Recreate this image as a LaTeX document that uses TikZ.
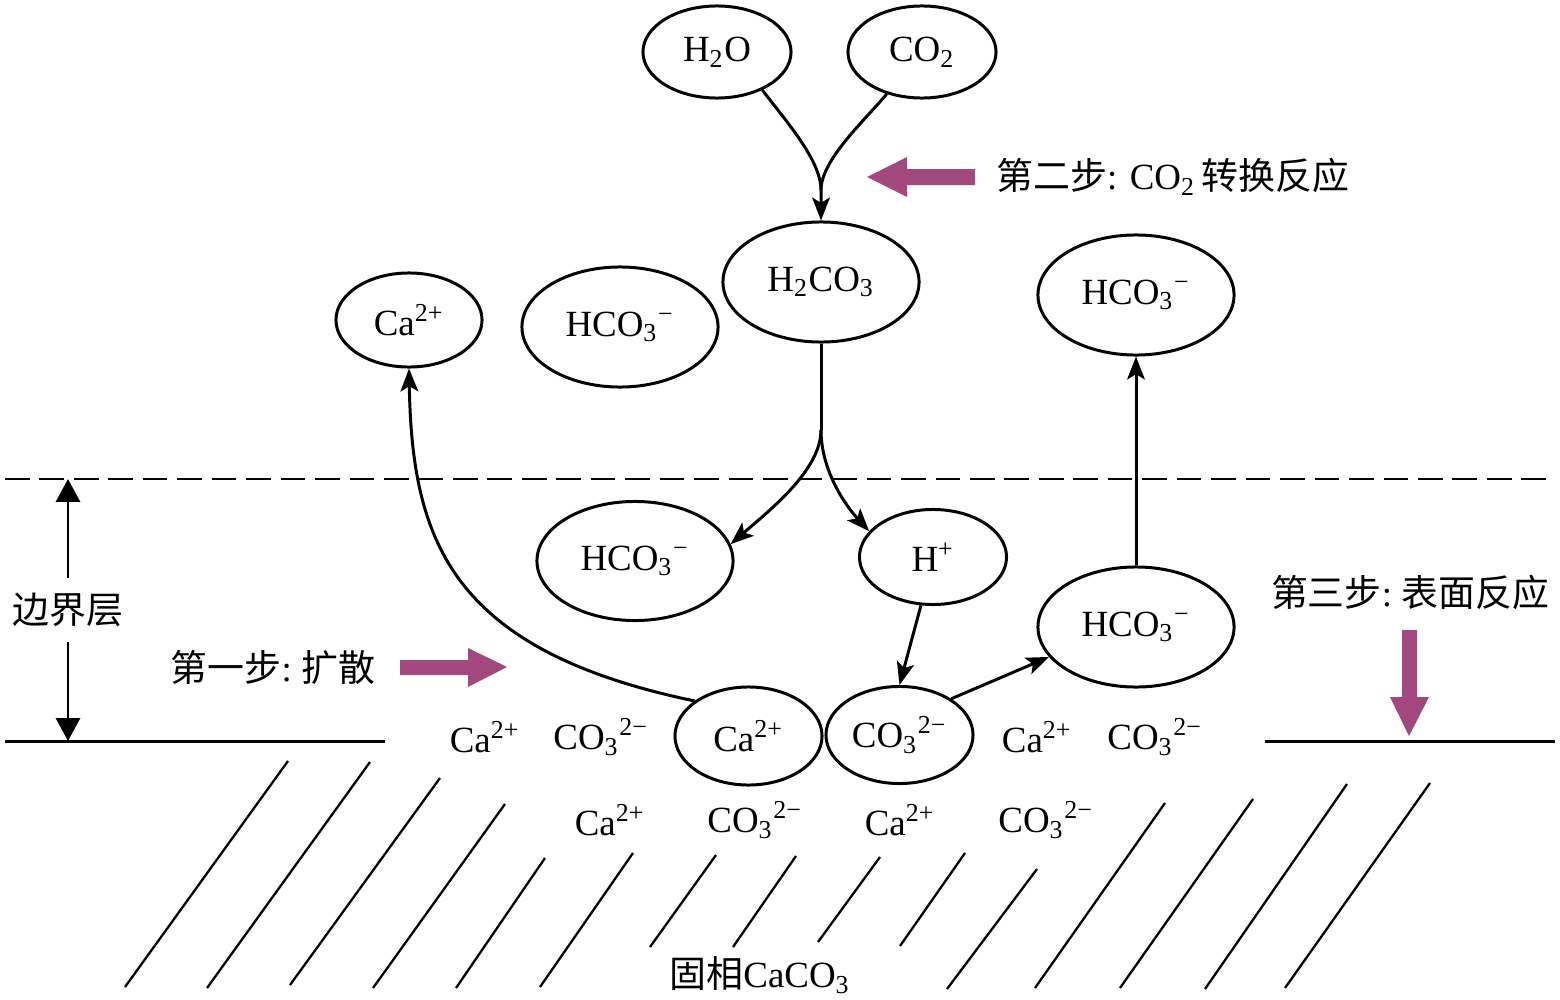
\documentclass[tikz,border=0pt]{standalone}
\usepackage{fontspec}
\setmainfont{Liberation Serif}
\newfontfamily\cjk{Noto Sans CJK SC}
\usetikzlibrary{shapes.geometric,arrows.meta}
\definecolor{stepc}{HTML}{A3477F}
\begin{document}
\begin{tikzpicture}[x=0.01cm,y=-0.01cm,
  ion/.style={draw,ellipse,line width=0.85pt,inner sep=0pt,font=\fontsize{10.5}{12}\selectfont},
  txt/.style={inner sep=0pt,font=\fontsize{10.5}{12}\selectfont},
  arr/.style={line width=0.85pt,-{Stealth[length=6.5pt,width=5pt,inset=1.5pt]}},
  bigarr/.style={line width=0.85pt,-{Triangle[length=6.5pt,width=6.8pt]}},
  ln/.style={line width=0.85pt},
  hatch/.style={line width=0.65pt},
  stepfill/.style={fill=stepc}]
\useasboundingbox (0,0) rectangle (1560,1000);

% boundary lines
\coordinate (dl) at (5,479);
\coordinate (dr) at (1555,479);
\draw[ln,dash pattern=on 7pt off 2.8pt] (dl) -- (dr);
\coordinate (gl1) at (5,741);
\coordinate (gl2) at (385,741);
\coordinate (gr1) at (1265,741);
\coordinate (gr2) at (1555,741);
\draw[ln] (gl1) -- (gl2);
\draw[ln] (gr1) -- (gr2);

% hatch lines of the solid phase
\foreach \xa/\ya/\xb/\yb in {
  288/761/125/987, 370/762/207/988, 440/778/290/985, 505/804/373/988,
  545/858/456/988, 633/853/540/987, 716/855/650/947, 796/856/733/947,
  880/857/818/942, 965/853/900/946, 1037/869/947/989, 1165/803/1035/988,
  1253/799/1120/988, 1347/784/1205/989, 1430/783/1285/988}
  \draw[hatch] (\xa,\ya) -- (\xb,\yb);

% nodes
\node[ion,minimum width=1.48cm,minimum height=0.92cm] (h2o) at (717,52) {H\textsubscript{2}O};
\node[ion,minimum width=1.48cm,minimum height=0.92cm] (co2) at (922,52) {CO\textsubscript{2}};
\node[ion,minimum width=1.96cm,minimum height=1.20cm] (h2co3) at (821,282) {H\textsubscript{2}CO\textsubscript{3}};
\node[ion,minimum width=1.46cm,minimum height=0.94cm] (ca1) at (409,320) {Ca\textsuperscript{2+}};
\node[ion,minimum width=1.96cm,minimum height=1.20cm] (hco3a) at (620,327) {HCO\textsubscript{3}\textsuperscript{−}};
\node[ion,minimum width=1.96cm,minimum height=1.20cm] (hco3b) at (1136,295) {HCO\textsubscript{3}\textsuperscript{−}};
\node[ion,minimum width=1.96cm,minimum height=1.19cm] (hco3m) at (635,561) {HCO\textsubscript{3}\textsuperscript{−}};
\node[ion,minimum width=1.47cm,minimum height=0.95cm] (hp) at (933,557) {H\textsuperscript{+}};
\node[ion,minimum width=1.96cm,minimum height=1.20cm] (hco3c) at (1136,627) {HCO\textsubscript{3}\textsuperscript{−}};
\node[ion,minimum width=1.47cm,minimum height=0.98cm] (cas) at (748.5,736) {Ca\textsuperscript{2+}};
\node[ion,minimum width=1.47cm,minimum height=0.97cm] (co3s) at (899.5,735) {CO\textsubscript{3}\textsuperscript{2−}};

% surface ions
\node[txt] (s1) at (485,737) {Ca\textsuperscript{2+}};
\node[txt] (s2) at (601,737) {CO\textsubscript{3}\textsuperscript{2−}};
\node[txt] (s3) at (1037,737) {Ca\textsuperscript{2+}};
\node[txt] (s4) at (1155,737) {CO\textsubscript{3}\textsuperscript{2−}};
\node[txt] (r1) at (610,820) {Ca\textsuperscript{2+}};
\node[txt] (r2) at (755,820) {CO\textsubscript{3}\textsuperscript{2−}};
\node[txt] (r3) at (900,820) {Ca\textsuperscript{2+}};
\node[txt] (r4) at (1046,820) {CO\textsubscript{3}\textsuperscript{2−}};
\node[txt] (solid) at (760,975) {{\cjk 固相}CaCO\textsubscript{3}};

% step labels
\node[txt] (st2) at (1173,177) {{\cjk 第二步}: CO\textsubscript{2}\,{\cjk 转换反应}};
\node[txt] (st1) at (273,667) {{\cjk 第一步}:\ {\cjk 扩散}};
\node[txt] (st3) at (1410,592) {{\cjk 第三步}:\ {\cjk 表面反应}};
\node[txt,inner ysep=4pt] (bl) at (68,610) {\cjk 边界层};

% boundary layer arrows
\coordinate (blt) at (68,479);
\coordinate (blb) at (68,741);
\draw[bigarr] (bl.north) -- (blt);
\draw[bigarr] (bl.south) -- (blb);

% step arrows
\fill[stepfill] (975,169) -- (907,169) -- (907,157) -- (867,177) -- (907,197) -- (907,185) -- (975,185) -- cycle;
\fill[stepfill] (400,660) -- (468,660) -- (468,648) -- (507,667) -- (468,687) -- (468,675) -- (400,675) -- cycle;
\fill[stepfill] (1402,630) -- (1417,630) -- (1417,697) -- (1429,697) -- (1409,736) -- (1390,697) -- (1402,697) -- cycle;

% connectors
\coordinate (m1) at (821,190);
\coordinate (m2) at (821,430);
\draw[arr] (h2o.-40) .. controls (785,120) and (821,160) .. (m1) -- (h2co3.north);
\draw[ln] (co2.-130) .. controls (865,120) and (821,160) .. (m1);
\draw[ln] (h2co3.south) -- (m2);
\draw[arr] (m2) .. controls (821,470) and (770,510) .. (hco3m.10);
\draw[arr] (m2) .. controls (821,470) and (845,505) .. (hp.158);
\draw[arr] (cas.147) .. controls (450,650) and (412,540) .. (ca1.south);
\draw[arr] (hp.-104) -- (co3s.north);
\draw[arr] (co3s.35) -- (hco3c.-161);
\draw[arr] (hco3c.north) -- (hco3b.south);
\end{tikzpicture}
\end{document}
